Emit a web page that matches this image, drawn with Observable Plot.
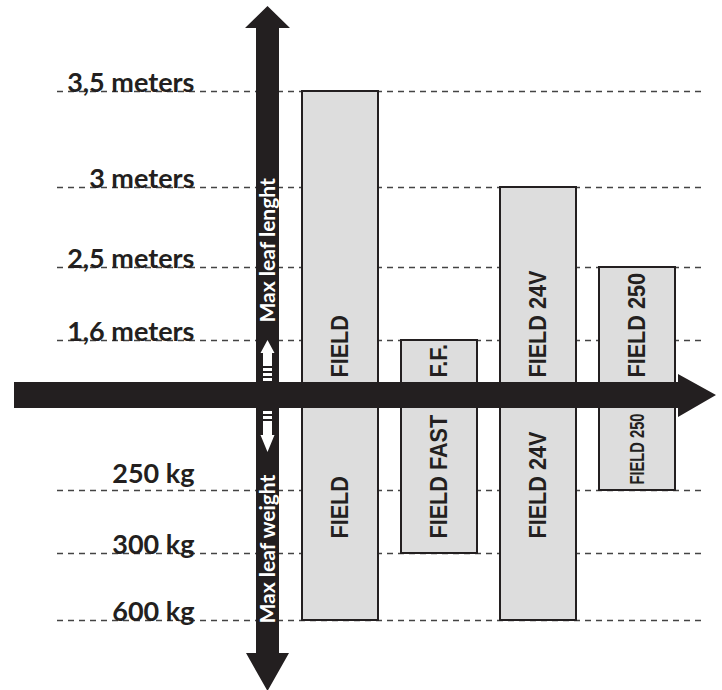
<!DOCTYPE html>
<html>
<head>
<meta charset="utf-8">
<script src="https://cdn.jsdelivr.net/npm/d3@7"></script>
<script src="https://cdn.jsdelivr.net/npm/@observablehq/plot@0.6"></script>
<style>
  html, body { margin: 0; padding: 0; background: #fff; }
  #chart { width: 722px; height: 690px; }
</style>
</head>
<body>
<div id="chart"></div>
<script>
// ---- data ----
const models = ["FIELD", "FIELD FAST", "FIELD 24V", "FIELD 250"];
const maxLength = [3.5, 1.6, 3, 2.5];      // meters
const maxWeight = [600, 300, 600, 250];    // kg
const upperLabels = ["FIELD", "F.F.", "FIELD 24V", "FIELD 250"];
const lowerLabels = ["FIELD", "FIELD FAST", "FIELD 24V", "FIELD 250"];
const lengthTicks = [3.5, 3, 2.5, 1.6];
const lengthTickLabels = ["3,5 meters", "3 meters", "2,5 meters", "1,6 meters"];
const weightTicks = [250, 300, 600];
const weightTickLabels = ["250 kg", "300 kg", "600 kg"];
const lengthAxisTitle = "Max leaf lenght";
const weightAxisTitle = "Max leaf weight";

const rows = models.map((m, i) => ({
  model: m, length: maxLength[i], weight: maxWeight[i],
  upper: upperLabels[i], lower: lowerLabels[i]
}));
const ticks = [
  ...lengthTicks.map((v, i) => ({v, label: lengthTickLabels[i]})),
  ...weightTicks.map((v, i) => ({v: -v, label: weightTickLabels[i]}))
];

const ink = "#231f20";
const tickFont = "Lato, 'DejaVu Sans', sans-serif";
const barFont = "'Liberation Sans', Arial, sans-serif";

function arrows(index, scales, values, dims) {
  const y0 = scales.y(0);
  const g = d3.create("svg:g");
  const cx = 267.5;
  g.append("path").attr("fill", ink).attr("d",
    `M14,${y0 - 13}H678V${y0 - 21}L716,${y0}L678,${y0 + 22}V${y0 + 13}H14Z`);
  g.append("path").attr("fill", ink).attr("d",
    `M${cx - 11.5},${dims.height - 37}V28H${cx - 22.5}L${cx},6L${cx + 22.5},28H${cx + 11.5}V${dims.height - 37}H${cx + 21.5}L${cx},${dims.height + 1}L${cx - 21.5},${dims.height - 37}Z`);
  const w = g.append("g").attr("fill", "#fff");
  w.append("path").attr("d",
    `M${cx},${y0 - 55}L${cx + 7},${y0 - 42}H${cx + 4.5}V${y0 - 29}H${cx - 4.5}V${y0 - 42}H${cx - 7}Z`);
  for (const o of [-27, -22, -17]) w.append("rect").attr("x", cx - 4.5).attr("y", y0 + o).attr("width", 9).attr("height", 3);
  w.append("path").attr("d",
    `M${cx},${y0 + 57}L${cx + 7},${y0 + 40}H${cx + 4.5}V${y0 + 29}H${cx - 4.5}V${y0 + 40}H${cx - 7}Z`);
  for (const o of [16, 21, 26]) w.append("rect").attr("x", cx - 4.5).attr("y", y0 + o).attr("width", 9).attr("height", 3);
  return g.node();
}

const chart = Plot.plot({
  width: 722,
  height: 690,
  marginLeft: 57,
  marginRight: 20,
  marginTop: 0,
  marginBottom: 0,
  style: {background: "#fff"},
  x: {type: "band", domain: models, range: [278, 699], padding: 0.23, axis: null},
  y: {
    type: "linear",
    domain: [-600, -300, -250, 0, 1.6, 2.5, 3, 3.5],
    range: [620, 553, 490, 395, 340, 267, 187, 91],
    axis: null
  },
  marks: [
    Plot.ruleY(ticks, {y: "v", stroke: "#444", strokeWidth: 1.3, strokeDasharray: "6,5"}),
    Plot.rectY(rows, {x: "model", y1: d => -d.weight, y2: "length", fill: "#dddddd", stroke: ink, strokeWidth: 2, inset: 0}),
    arrows,
    Plot.text(ticks.filter(d => d.v !== -250), {
      y: "v", text: "label", frameAnchor: "left", dx: 137, dy: 0,
      textAnchor: "end", lineAnchor: "bottom",
      fontSize: 27, fontWeight: "bold", fontFamily: tickFont, fill: ink
    }),
    Plot.text(ticks.filter(d => d.v === -250), {
      y: "v", text: "label", frameAnchor: "left", dx: 137, dy: -8,
      textAnchor: "end", lineAnchor: "bottom",
      fontSize: 27, fontWeight: "bold", fontFamily: tickFont, fill: ink
    }),
    Plot.text(rows, {
      x: "model", y: d => 0, text: "upper", rotate: -90, textAnchor: "start", lineAnchor: "middle",
      dy: -18, fontSize: 24, fontWeight: "bold", fontFamily: barFont, fill: ink
    }),
    Plot.text(rows.filter(d => d.model !== "FIELD 250"), {
      x: "model", y: d => 0, text: "lower", rotate: -90, textAnchor: "start", lineAnchor: "middle",
      dy: 143, fontSize: 24, fontWeight: "bold", fontFamily: barFont, fill: ink
    }),
    Plot.text(rows.filter(d => d.model === "FIELD 250"), {
      x: "model", y: d => 0, text: "lower", rotate: -90, textAnchor: "end", lineAnchor: "middle",
      dy: 18, fontSize: 21, fontWeight: "bold", fontFamily: barFont, fill: ink
    }),
    Plot.text([lengthAxisTitle], {
      y: d => lengthTicks[3], text: d => d, frameAnchor: "left", dx: 210.5, dy: -18,
      rotate: -90, textAnchor: "start", lineAnchor: "middle",
      fontSize: 21, fontWeight: "bold", fontFamily: tickFont, fill: "#fff"
    }),
    Plot.text([weightAxisTitle], {
      y: d => -weightTicks[2], text: d => d, frameAnchor: "left", dx: 210.5, dy: 3,
      rotate: -90, textAnchor: "start", lineAnchor: "middle",
      fontSize: 21, fontWeight: "bold", fontFamily: tickFont, fill: "#fff"
    })
  ]
});
// condense bar labels along their length, as in the reference lettering
const textGroups = d3.select(chart).selectAll("g[aria-label='text']").nodes();
const squeeze = (g, k) => d3.select(g).selectAll("text").each(function() {
  const t = d3.select(this);
  t.attr("transform", (t.attr("transform") || "") + ` scale(${k},1)`);
});
if (textGroups.length >= 5) {
  squeeze(textGroups[2], 0.9);
  squeeze(textGroups[3], 0.9);
  squeeze(textGroups[4], 0.7);
}
document.getElementById("chart").appendChild(chart);
</script>
</body>
</html>
